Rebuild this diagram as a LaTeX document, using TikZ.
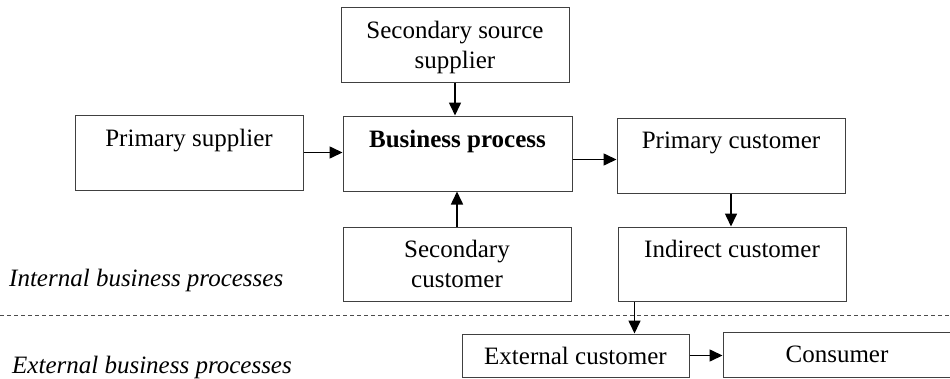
\documentclass[tikz,border=0pt]{standalone}
\usepackage{fontspec}
\setmainfont{Liberation Serif}
\usetikzlibrary{arrows.meta}

\begin{document}
\begin{tikzpicture}[x=1pt,y=-1pt,
    box/.style={draw=black!75, line width=1pt, minimum width=228pt,
        minimum height=75pt, inner sep=0pt, align=center,
        font=\fontsize{25}{30}\selectfont},
    flow/.style={-{Triangle[length=13pt,width=12pt]}, line width=1.6pt},
    lbl/.style={inner sep=0pt, anchor=base west,
        font=\fontsize{25}{30}\selectfont\itshape}]
    \clip (0,0) rectangle (950,378);

    % Draw process boxes
    \node[box] (ss) at (455,44.5) {Secondary source\\\raisebox{0pt}[\height][0pt]{supplier}};
    \node[box, minimum width=229pt] (bp) at (457.5,153.5) {\textbf{Business process}\\\mbox{}};
    \node[box] (ps) at (189,152.5) {Primary supplier\\\mbox{}};
    \node[box] (pc) at (731,155.5) {Primary customer\\\mbox{}};
    \node[box, minimum height=74pt] (sc) at (457,264) {Secondary\\customer};
    \node[box, minimum height=74pt] (ic) at (732,264) {Indirect customer\\\mbox{}};
    \node[box, minimum width=227pt, minimum height=43pt] (ec) at (575.5,355.5) {External customer};
    \node[box, minimum height=45pt] (co) at (837,354.5) {Consumer};

    % Draw flows
    \draw[flow] (ss.south) -- (ss.south |- bp.north);
    \draw[flow] (sc.north) -- (sc.north |- bp.south);
    \draw[flow] (ps.east) -- (ps.east -| bp.west);
    \draw[flow] ([yshift=-6pt]bp.east) -- ([yshift=-6pt]bp.east -| pc.west);
    \draw[flow] (pc.south) -- (pc.south |- ic.north);
    \draw[flow] ([xshift=17pt]ic.south west) -- ([xshift=17pt]ic.south west |- ec.north);
    \draw[flow] (ec.east) -- (ec.east -| co.west);

    % Draw boundary and labels
    \draw[dashed, black!70, line width=0.8pt, dash pattern=on 4pt off 3pt] (0,315) -- (950,315);
    \node[lbl] (int) at (9,286) {Internal business processes};
    \node[lbl] (ext) at (12,373) {External business processes};
\end{tikzpicture}
\end{document}
